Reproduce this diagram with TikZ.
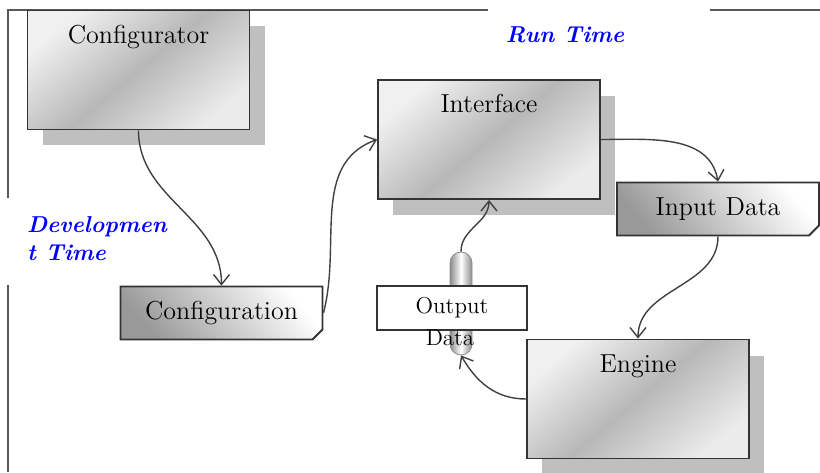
\documentclass[tikz,border=0pt]{standalone}
\usetikzlibrary{shapes.misc,arrows.meta,shadows}
\tikzstyle{bigbox} = [rectangle, minimum width=111pt, minimum height=59.5pt, inner ysep=7.5pt, text height=9pt, text depth=35.5pt, draw=black!80, line width=0.9pt, shading=axis, top color=black!6, bottom color=black!8, middle color=black!28, shading angle=40, drop shadow={shadow xshift=7.5pt, shadow yshift=-8pt, fill=black!25, opacity=1}, font=\fontsize{13}{15}\selectfont]
\tikzstyle{docbox} = [chamfered rectangle, chamfered rectangle corners=south east, chamfered rectangle xsep=2.5pt, chamfered rectangle ysep=2.5pt, minimum width=101pt, minimum height=26.5pt, draw=black!80, line width=0.9pt, shading=axis, top color=white, bottom color=black!40, shading angle=-50, font=\fontsize{13}{15}\selectfont]
\tikzstyle{outbox} = [rectangle, minimum width=75pt, minimum height=22pt, draw=black!80, line width=0.8pt, fill=white, font=\fontsize{11.5}{13}\selectfont]
\tikzstyle{capsule} = [rectangle, rounded corners=5.5pt, minimum width=11pt, minimum height=51.5pt, draw=black!45, left color=black!45, right color=black!45, middle color=white]
\tikzstyle{timelabel} = [text=blue, align=left, font=\fontsize{11.5}{14}\selectfont\bfseries\itshape]
\tikzstyle{frame} = [line width=1pt, draw=black!65]
\tikzstyle{arrow} = [line width=0.7pt, draw=black!75, ->, >={Straight Barb[length=5pt,width=8pt]}]

\begin{document}
\begin{tikzpicture}[x=0.5pt, y=0.5pt]
	\useasboundingbox (0,0) rectangle (820,472);
	
	\draw[frame] (8,0) -- (8,187);
	\draw[frame] (8,274) -- (8,462) -- (488,462);
	\draw[frame] (710,462) -- (820,462);
	
	\node (cfg) [bigbox] at (138.5,402) {Configurator};
	
	\node (intf) [bigbox] at (489,332.5) {Interface};
	
	\node (eng) [bigbox] at (638,73) {Engine};
	
	\node (inp) [docbox] at (718,263) {Input Data};
	
	\node (conf) [docbox] at (221.5,159) {Configuration};
	
	\node (cap) [capsule] at (461,168.5) {};
	
	\node (out) [outbox] at (452,164) {Output};
	
	\node (outdata) [font=\fontsize{11.5}{13}\selectfont] at (450,134) {Data};
	
	\node (run) [timelabel] at (565,437) {Run Time};
	
	\node (dev) [timelabel, anchor=west] at (20,233) {Developmen\\t Time};
	
	%
	
	\draw[arrow] (cfg.south) to[out=-90,in=90] (conf.north);
	\draw[arrow] (conf.east) to[out=75,in=200] (intf.west);
	\draw[arrow] (intf.east) to[out=0,in=100] (inp.north);
	\draw[arrow] (inp.south) to[out=-90,in=90] (eng.north);
	\draw[arrow] (eng.west) to[out=180,in=-60] (cap.south);
	\draw[arrow] (cap.north) to[out=90,in=-90] (intf.south);
	
\end{tikzpicture}
\end{document}
